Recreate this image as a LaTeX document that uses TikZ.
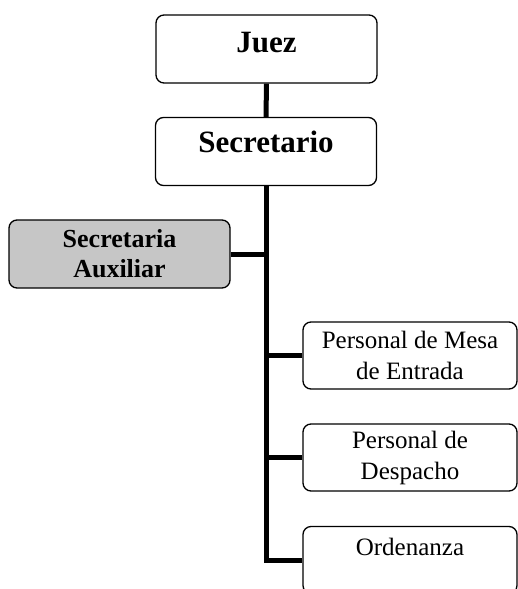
\documentclass[tikz,border=0pt]{standalone}
\usepackage{fontspec}
\setmainfont{Liberation Serif}
\usepackage{tikz}
\usepackage{xcolor}

\begin{document}
\begin{tikzpicture}[x=1pt, y=-1pt,
      every node/.style = {shape=rectangle, rounded corners=8pt,
        draw, line width=1.3pt, align=center, inner sep=0pt},
      jefe/.style = {minimum width=221pt, minimum height=68pt,
        font=\fontsize{31}{34}\selectfont\bfseries, text height=22pt},
      auxiliar/.style = {minimum width=221pt, minimum height=68pt,
        fill=gray!45, font=\fontsize{26}{30}\selectfont\bfseries},
      personal/.style = {minimum width=214pt, minimum height=67pt,
        font=\fontsize{25}{31}\selectfont},
      enlace/.style = {line width=5pt}]
    \useasboundingbox (0,0) rectangle (518,589);
    \node[jefe, text depth=15pt] (juez) at (266.5,49) {Juez};
    \node[jefe, text depth=20pt] (secretario) at (266,151.5) {Secretario};
    \node[auxiliar] (auxiliar) at (119.5,254) {Secretaria\\Auxiliar};
    \node[personal] (mesa) at (410,355.5) {Personal de Mesa\\de Entrada};
    \node[personal] (despacho) at (410,457.5) {Personal de\\Despacho};
    \node[personal, text height=18pt, text depth=27pt] (ordenanza) at (410,560) {Ordenanza};
    \draw[enlace] (juez.south) -- (secretario.north);
    \draw[enlace] (secretario.south) |- (ordenanza.west);
    \draw[enlace] (auxiliar.east) -- (auxiliar.east -| secretario.south);
    \draw[enlace] (mesa.west) -- (mesa.west -| secretario.south);
    \draw[enlace] (despacho.west) -- (despacho.west -| secretario.south);
  \end{tikzpicture}
\end{document}
